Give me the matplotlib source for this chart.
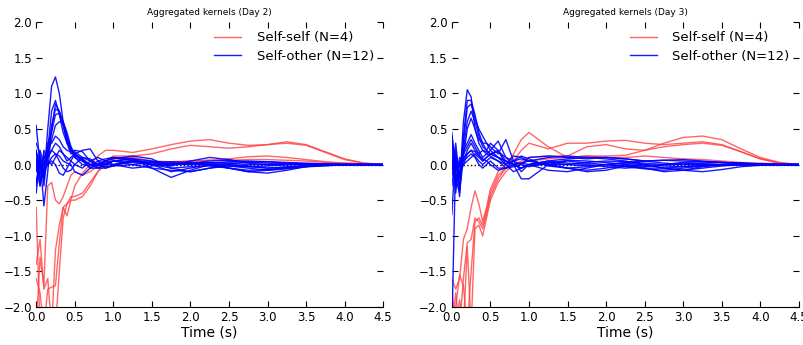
import matplotlib
matplotlib.use('Agg')
import matplotlib.pyplot as plt
import numpy as np

# Time grid (s) shared by all kernels
tiempo = [0, 0.05, 0.1, 0.15, 0.2, 0.25, 0.3, 0.35, 0.4, 0.45, 0.5, 0.6, 0.7, 0.8, 0.9, 1.0,
          1.25, 1.5, 1.75, 2.0, 2.25, 2.5, 2.75, 3.0, 3.25, 3.5, 3.75, 4.0, 4.25, 4.5]

# Day 2 - self-self kernels
dia2_self = [
    [-0.6, -2.3, -2.3, -1.75, -1.72, -1.7, -1.1, -0.6, -0.72, -0.5, -0.3, -0.12, 0.0, 0.12, 0.2, 0.2,
     0.17, 0.22, 0.28, 0.33, 0.35, 0.3, 0.27, 0.28, 0.32, 0.28, 0.18, 0.08, 0.02, 0.0],
    [-1.4, -1.05, -1.75, -1.6, -2.3, -2.3, -1.5, -0.75, -0.55, -0.5, -0.5, -0.45, -0.3, -0.1, 0.05, 0.12,
     0.12, 0.15, 0.22, 0.27, 0.25, 0.23, 0.25, 0.28, 0.3, 0.27, 0.17, 0.07, 0.02, 0.0],
    [-2.3, -1.3, -1.7, -0.3, -0.25, -0.5, -0.55, -0.45, -0.3, -0.15, -0.1, -0.15, -0.1, -0.02, 0.05, 0.1,
     0.1, 0.05, 0.04, 0.05, 0.06, 0.08, 0.11, 0.12, 0.1, 0.07, 0.04, 0.02, 0.01, 0.0],
    [-1.6, -1.8, -2.3, -2.3, -2.3, -1.2, -0.85, -0.6, -0.55, -0.45, -0.45, -0.4, -0.25, -0.1, 0.0, 0.08,
     0.1, 0.0, 0.03, 0.05, 0.06, 0.06, 0.07, 0.07, 0.06, 0.05, 0.03, 0.02, 0.01, 0.0],
]

# Day 2 - self-other kernels
dia2_other = [
    [0.55, 0.0, -0.2, 0.5, 1.1, 1.23, 1.0, 0.6, 0.35, 0.2, 0.1, 0.05, 0.0, -0.02, 0.02, 0.05,
     0.03, 0.0, 0.0, 0.02, 0.03, 0.02, 0.0, 0.0, 0.0, 0.01, 0.01, 0.0, 0.0, 0.0],
    [0.3, 0.15, -0.3, 0.2, 0.75, 0.9, 0.7, 0.45, 0.3, 0.2, 0.12, 0.08, 0.0, -0.05, 0.0, 0.05,
     0.08, -0.05, -0.18, -0.08, 0.0, -0.05, -0.1, -0.08, -0.05, -0.03, -0.02, 0.0, 0.0, 0.0],
    [-0.4, 0.1, -0.58, -0.1, 0.5, 0.85, 0.75, 0.55, 0.35, 0.2, 0.15, 0.05, -0.05, 0.0, 0.05, 0.1,
     0.05, 0.0, -0.02, 0.05, 0.1, 0.07, 0.02, 0.0, 0.0, 0.0, 0.0, 0.0, 0.0, 0.0],
    [0.1, -0.3, 0.2, 0.1, 0.55, 0.78, 0.75, 0.6, 0.4, 0.25, 0.15, 0.2, 0.22, 0.05, 0.0, 0.0,
     0.05, 0.02, 0.0, 0.0, 0.0, -0.05, -0.1, -0.12, -0.08, -0.03, 0.0, 0.0, 0.0, 0.0],
    [0.2, -0.2, -0.1, 0.3, 0.45, 0.7, 0.72, 0.55, 0.3, 0.15, 0.18, 0.1, 0.05, 0.0, -0.03, -0.02,
     0.0, 0.03, 0.04, 0.03, 0.02, 0.02, 0.03, 0.04, 0.03, 0.02, 0.01, 0.0, 0.0, 0.0],
    [-0.25, 0.1, 0.0, 0.15, 0.35, 0.55, 0.6, 0.6, 0.45, 0.25, 0.1, 0.0, -0.02, 0.05, 0.08, 0.1,
     0.08, 0.0, -0.1, -0.05, 0.0, 0.0, -0.02, -0.05, -0.04, -0.02, 0.0, 0.0, 0.0, 0.0],
    [0.0, -0.3, 0.0, 0.25, 0.3, 0.4, 0.35, 0.25, 0.2, 0.18, 0.2, 0.18, 0.05, -0.05, -0.05, 0.0,
     0.05, 0.0, -0.05, -0.03, -0.02, -0.05, -0.08, -0.07, -0.04, -0.02, 0.0, 0.0, 0.0, 0.0],
    [0.15, 0.1, -0.2, 0.1, 0.2, 0.3, 0.25, 0.15, 0.05, 0.1, 0.15, 0.05, 0.0, 0.0, 0.02, 0.05,
     0.08, 0.05, 0.02, 0.0, 0.02, 0.04, 0.05, 0.04, 0.02, 0.01, 0.0, 0.0, 0.0, 0.0],
    [-0.1, 0.2, 0.0, 0.1, 0.2, 0.15, 0.12, 0.05, 0.02, 0.0, -0.1, -0.15, -0.05, 0.02, 0.05, 0.08,
     0.12, 0.08, -0.05, -0.1, -0.05, 0.0, -0.03, -0.05, -0.03, -0.01, 0.0, 0.0, 0.0, 0.0],
    [0.05, -0.15, 0.15, 0.0, 0.1, 0.15, 0.05, -0.05, -0.1, -0.08, 0.0, 0.1, 0.08, 0.0, -0.05, -0.02,
     0.05, 0.04, 0.0, 0.02, 0.05, 0.06, 0.04, 0.02, 0.01, 0.0, 0.0, 0.0, 0.0, 0.0],
    [-0.3, 0.05, -0.1, 0.0, 0.05, 0.0, -0.12, -0.15, -0.05, 0.05, 0.15, 0.08, -0.05, -0.05, 0.0, 0.05,
     0.0, -0.05, -0.08, -0.1, -0.05, -0.02, -0.05, -0.08, -0.06, -0.03, -0.01, 0.0, 0.0, 0.0],
    [0.2, -0.1, 0.1, 0.05, 0.0, 0.1, 0.2, 0.15, 0.1, 0.05, 0.0, -0.05, 0.05, 0.1, 0.05, 0.0,
     -0.05, -0.02, 0.02, 0.03, 0.0, -0.02, -0.03, -0.02, 0.0, 0.01, 0.0, 0.0, 0.0, 0.0],
]

# Day 3 - self-self kernels
dia3_self = [
    [-1.6, -1.75, -1.6, -1.05, -0.9, -0.6, -0.37, -0.55, -0.8, -0.6, -0.35, -0.1, 0.0, 0.15, 0.35, 0.45,
     0.25, 0.1, 0.12, 0.12, 0.13, 0.2, 0.25, 0.28, 0.3, 0.27, 0.18, 0.08, 0.02, 0.0],
    [-2.3, -2.0, -1.55, -1.7, -2.3, -1.5, -0.8, -0.75, -0.85, -0.65, -0.4, -0.15, -0.05, 0.05, 0.2, 0.3,
     0.22, 0.3, 0.3, 0.33, 0.34, 0.3, 0.28, 0.3, 0.32, 0.28, 0.18, 0.08, 0.02, 0.0],
    [-1.75, -2.3, -1.9, -2.3, -1.15, -2.3, -0.9, -0.85, -1.0, -0.75, -0.5, -0.25, -0.1, 0.0, 0.05, 0.1,
     0.12, 0.12, 0.25, 0.28, 0.22, 0.2, 0.3, 0.38, 0.4, 0.35, 0.22, 0.1, 0.03, 0.0],
    [-2.3, -1.8, -2.3, -1.6, -1.1, -1.05, -0.75, -0.8, -0.9, -0.7, -0.45, -0.2, -0.05, 0.0, 0.03, 0.05,
     0.08, 0.1, 0.12, 0.1, 0.1, 0.12, 0.1, 0.08, 0.07, 0.05, 0.03, 0.02, 0.01, 0.0],
]

# Day 3 - self-other kernels
dia3_other = [
    [0.45, -0.1, -0.3, 0.6, 1.05, 0.95, 0.5, 0.3, 0.2, 0.15, 0.12, 0.05, 0.0, 0.05, 0.08, 0.05,
     0.0, 0.0, 0.03, 0.05, 0.04, 0.02, 0.0, 0.0, 0.02, 0.03, 0.02, 0.01, 0.0, 0.0],
    [-0.7, 0.2, -0.45, 0.4, 0.9, 0.9, 0.7, 0.45, 0.3, 0.2, 0.15, 0.1, 0.05, 0.0, -0.05, 0.0,
     0.05, 0.02, 0.0, -0.03, -0.05, -0.03, 0.0, 0.02, 0.01, 0.0, 0.0, 0.0, 0.0, 0.0],
    [0.4, 0.0, -0.2, 0.3, 0.8, 0.85, 0.65, 0.5, 0.4, 0.3, 0.2, 0.1, 0.05, 0.0, 0.02, 0.05,
     0.1, 0.12, 0.1, 0.08, 0.05, 0.0, -0.05, -0.08, -0.05, -0.02, 0.0, 0.0, 0.0, 0.0],
    [-2.3, 0.1, -0.35, 0.2, 0.6, 0.75, 0.6, 0.4, 0.25, 0.2, 0.3, 0.2, 0.0, -0.1, -0.05, 0.0,
     0.05, 0.08, 0.1, 0.1, 0.08, 0.05, 0.02, 0.0, 0.0, 0.0, 0.0, 0.0, 0.0, 0.0],
    [0.2, -0.2, -0.4, 0.1, 0.5, 0.65, 0.5, 0.35, 0.3, 0.3, 0.25, 0.15, 0.35, 0.05, -0.1, 0.0,
     0.0, -0.05, -0.08, -0.05, 0.0, -0.05, -0.1, -0.08, -0.03, 0.0, 0.0, 0.0, 0.0, 0.0],
    [-0.1, 0.3, -0.2, 0.2, 0.3, 0.42, 0.3, 0.2, 0.1, 0.15, 0.2, 0.33, 0.1, 0.0, -0.05, 0.0,
     0.03, 0.0, -0.02, 0.0, 0.03, 0.05, 0.06, 0.05, 0.04, 0.03, 0.02, 0.01, 0.0, 0.0],
    [0.1, -0.3, 0.0, 0.15, 0.25, 0.35, 0.25, 0.15, 0.05, 0.1, 0.15, 0.2, 0.05, 0.0, -0.2, -0.2,
     0.0, 0.05, 0.02, 0.0, -0.02, -0.05, -0.05, -0.03, -0.01, 0.0, 0.0, 0.0, 0.0, 0.0],
    [0.0, -0.25, 0.1, 0.05, 0.2, 0.3, 0.2, 0.15, 0.2, 0.18, 0.15, 0.1, 0.0, 0.12, 0.1, 0.05,
     0.0, -0.05, -0.1, -0.08, -0.02, 0.0, -0.05, -0.08, -0.1, -0.07, -0.03, -0.01, 0.0, 0.0],
    [-0.3, 0.15, -0.15, 0.0, 0.15, 0.2, 0.12, 0.05, 0.0, 0.05, 0.1, 0.05, -0.05, -0.03, 0.0, 0.1,
     0.12, 0.1, 0.08, 0.1, 0.08, 0.05, 0.06, 0.07, 0.05, 0.03, 0.01, 0.0, 0.0, 0.0],
    [0.3, -0.1, 0.0, 0.05, 0.1, 0.15, 0.1, 0.0, -0.05, 0.0, 0.05, -0.05, -0.05, 0.05, 0.12, 0.08,
     -0.02, -0.05, -0.03, 0.0, -0.03, -0.06, -0.08, -0.05, -0.02, 0.0, 0.0, 0.0, 0.0, 0.0],
    [-0.15, 0.0, -0.1, 0.0, 0.05, 0.1, 0.15, 0.1, 0.05, 0.1, 0.15, 0.18, 0.1, 0.05, 0.0, -0.03,
     0.02, 0.06, 0.05, 0.03, 0.0, -0.02, 0.0, 0.03, 0.04, 0.03, 0.02, 0.0, 0.0, 0.0],
    [0.1, -0.4, 0.05, 0.1, 0.15, 0.2, 0.18, 0.12, 0.08, 0.05, 0.0, -0.08, -0.05, 0.0, 0.02, 0.0,
     -0.08, -0.1, -0.05, 0.0, 0.02, 0.0, -0.02, -0.03, -0.02, -0.01, 0.0, 0.0, 0.0, 0.0],
]

dias = ['Day 2', 'Day 3']
datos = [(dia2_self, dia2_other), (dia3_self, dia3_other)]

fig = plt.figure(figsize=(8.04, 3.45), dpi=100)
posiciones = [[0.045, 0.110, 0.4316, 0.826], [0.562, 0.110, 0.4316, 0.826]]

for pos, dia, (selfK, otherK) in zip(posiciones, dias, datos):
    ax = fig.add_axes(pos)
    ax.axhline(0, color='k', linestyle=':', linewidth=1)
    for i, k in enumerate(selfK):
        ax.plot(tiempo, k, color='#ff4040', alpha=0.8, linewidth=1,
                label='Self-self (N=%d)' % len(selfK) if i == 0 else None)
    for i, k in enumerate(otherK):
        ax.plot(tiempo, k, color='#0000ff', alpha=0.9, linewidth=1,
                label='Self-other (N=%d)' % len(otherK) if i == 0 else None)

    ax.set_xlim(0, 4.5)
    ax.set_ylim(-2, 2)
    ax.set_xticks(np.arange(0, 4.51, 0.5))
    ax.set_yticks(np.arange(-2, 2.01, 0.5))
    ax.tick_params(direction='in', top=True, right=True, length=4, labelsize=8.5, pad=3)
    for s in ['top', 'left', 'right']:
        ax.spines[s].set_visible(False)
    ax.set_title('Aggregated kernels (%s)' % dia, fontsize=6.5, pad=5)
    ax.set_xlabel('Time (s)', fontsize=10, labelpad=1)
    ax.legend(loc='upper right', frameon=False, fontsize=9.5, handlelength=2.0,
              borderaxespad=0.3, handletextpad=1.2, labelspacing=0.4)

plt.savefig('out.png', dpi=100)
